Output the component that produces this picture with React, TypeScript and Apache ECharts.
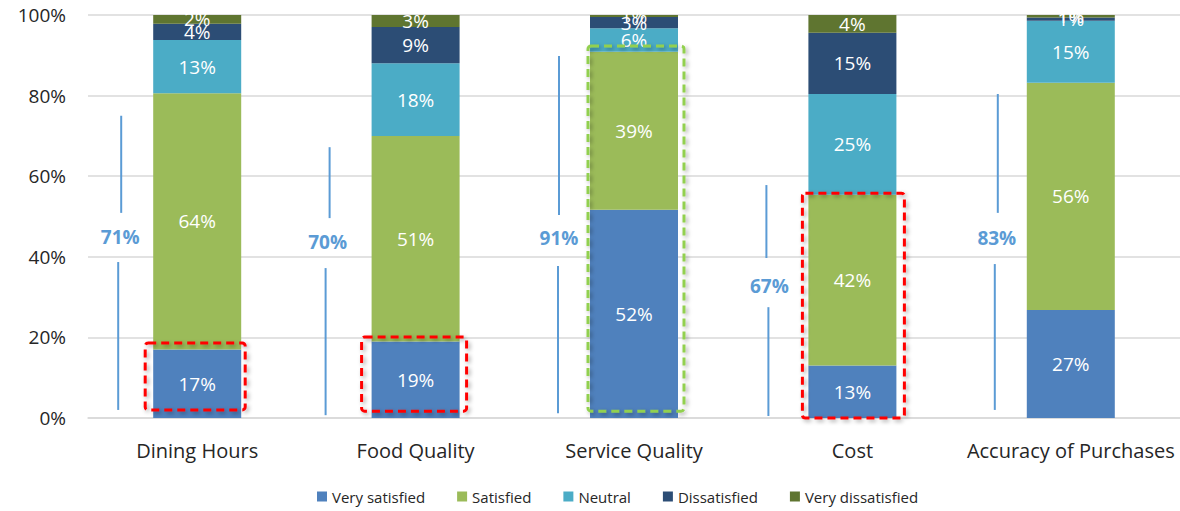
import React, { useEffect, useRef } from "react";
import * as echarts from "echarts";

const categories = ["Dining Hours", "Food Quality", "Service Quality", "Cost", "Accuracy of Purchases"];
const seriesNames = ["Very satisfied", "Satisfied", "Neutral", "Dissatisfied", "Very dissatisfied"];
const verySatisfied = [17, 19, 51.7, 13, 26.8];
const satisfied = [63.6, 51, 39.2, 42.4, 56.4];
const neutral = [13.2, 18, 5.8, 25, 15.4];
const dissatisfied = [4, 9, 2.8, 15.2, 0.8];
const veryDissatisfied = [2.2, 3, 0.5, 4.4, 0.6];
const satisfiedTotals = [71, 70, 91, 67, 83];
const yTicks = [0, 20, 40, 60, 80, 100];

const colors = ["#4F81BD", "#9BBB59", "#4BACC6", "#2C4D75", "#5F7530"];

// annotation layout (value-axis positions in %, x offsets in px from category center)
const annLayout = [
  { dx: -77, upDx: -76, loDx: -79, labelY: 44.9, upTop: 75, upBot: 50.9, loTop: 38.7, loBot: 2 },
  { dx: -88, upDx: -86, loDx: -90, labelY: 43.7, upTop: 67.2, upBot: 49.6, loTop: 37.2, loBot: 0.7 },
  { dx: -75, upDx: -75, loDx: -76, labelY: 44.7, upTop: 89.8, upBot: 50.4, loTop: 37.7, loBot: 1.2 },
  { dx: -83, upDx: -86, loDx: -84, labelY: 32.8, upTop: 57.8, upBot: 39.7, loTop: 27.5, loBot: 0.5 },
  { dx: -74, upDx: -73, loDx: -76, labelY: 44.7, upTop: 80.4, upBot: 50.9, loTop: 38.2, loBot: 2 },
];

const boxes = [
  { cat: 0, left: -52, right: 48, top: 18.6, bottom: 2, color: "#FF0000" },
  { cat: 1, left: -54, right: 51, top: 20.1, bottom: 1.7, color: "#FF0000" },
  { cat: 2, left: -46, right: 50, top: 92.3, bottom: 1.7, color: "#92D050" },
  { cat: 3, left: -50, right: 52, top: 55.8, bottom: 0, color: "#FF0000" },
];

const FONT = "'Open Sans', 'Noto Sans', sans-serif";

export default function App() {
  const ref = useRef<HTMLDivElement>(null);
  useEffect(() => {
    document.body.style.margin = "0";
    if (!ref.current) return;
    const chart = echarts.init(ref.current, null, { renderer: "svg" });
    const data = [verySatisfied, satisfied, neutral, dissatisfied, veryDissatisfied];
    chart.setOption({
      animation: false,
      color: colors,
      textStyle: { fontFamily: FONT },
      grid: { left: 88, right: 0, top: 15, bottom: 93, containLabel: false },
      legend: {
        data: seriesNames,
        left: 317,
        top: 489,
        padding: 0,
        itemWidth: 10,
        itemHeight: 10,
        itemGap: 32,
        icon: "rect",
        textStyle: { fontSize: 15, color: "#262626", fontFamily: FONT },
      },
      xAxis: {
        type: "category",
        data: categories,
        axisTick: { show: false },
        axisLine: { lineStyle: { color: "#D9D9D9", width: 1.5 } },
        axisLabel: { fontSize: 20, color: "#262626", margin: 22, interval: 0 },
      },
      yAxis: {
        type: "value",
        min: yTicks[0],
        max: yTicks[yTicks.length - 1],
        interval: 20,
        axisLabel: { formatter: "{value}%", fontSize: 19, color: "#262626", margin: 22 },
        splitLine: { lineStyle: { color: "#D9D9D9", width: 1.5 } },
        axisLine: { show: false },
        axisTick: { show: false },
      },
      series: seriesNames.map((name, i) => ({
        name,
        type: "bar",
        stack: "total",
        barWidth: 88,
        data: data[i],
        label: {
          show: true,
          position: "inside",
          color: "#FFFFFF",
          fontSize: 19,
          fontFamily: FONT,
          formatter: (p: any) => Math.round(p.value) + "%",
        },
      })),
    });

    const graphics: any[] = [];
    categories.forEach((c, i) => {
      const L = annLayout[i];
      const [cx] = chart.convertToPixel({ gridIndex: 0 }, [i, 0]) as number[];
      const py = (v: number) => (chart.convertToPixel({ gridIndex: 0 }, [i, v]) as number[])[1];
      graphics.push({
        type: "line",
        shape: { x1: cx + L.upDx, y1: py(L.upTop), x2: cx + L.upDx, y2: py(L.upBot) },
        style: { stroke: "#5B9BD5", lineWidth: 2 },
        z: 10,
      });
      graphics.push({
        type: "line",
        shape: { x1: cx + L.loDx, y1: py(L.loTop), x2: cx + L.loDx, y2: py(L.loBot) },
        style: { stroke: "#5B9BD5", lineWidth: 2 },
        z: 10,
      });
      graphics.push({
        type: "text",
        x: cx + L.dx,
        y: py(L.labelY),
        style: {
          text: satisfiedTotals[i] + "%",
          fill: "#5B9BD5",
          font: `bold 19px ${FONT}`,
          align: "center",
          verticalAlign: "middle",
        },
        z: 10,
      });
    });
    boxes.forEach((b) => {
      const [cx, yTop] = chart.convertToPixel({ gridIndex: 0 }, [b.cat, b.top]) as number[];
      const yBot = (chart.convertToPixel({ gridIndex: 0 }, [b.cat, b.bottom]) as number[])[1];
      graphics.push({
        type: "rect",
        shape: { x: cx + b.left, y: yTop, width: b.right - b.left, height: yBot - yTop, r: 3 },
        style: {
          fill: "none",
          stroke: b.color,
          lineWidth: 3,
          lineDash: [8, 5],
          shadowBlur: 4,
          shadowColor: "rgba(0,0,0,0.35)",
          shadowOffsetX: 2,
          shadowOffsetY: 2,
        },
        z: 20,
      });
    });
    chart.setOption({ graphic: graphics });

    return () => chart.dispose();
  }, []);
  return <div ref={ref} style={{ width: 1180, height: 511 }} />;
}
